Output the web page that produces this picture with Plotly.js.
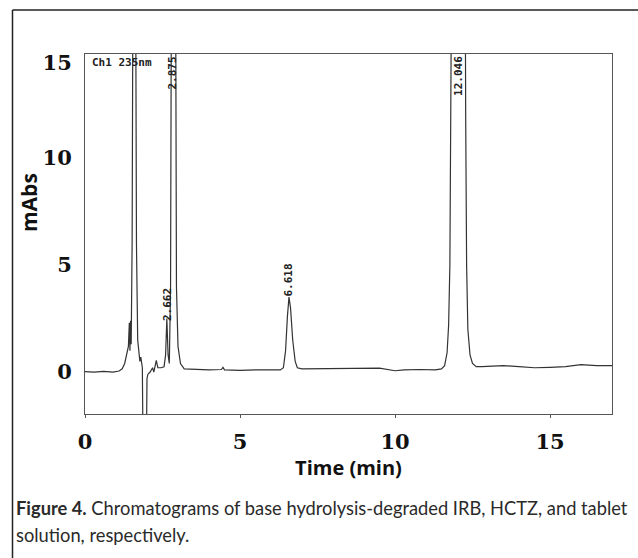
<!DOCTYPE html>
<html>
<head>
<meta charset="utf-8">
<script src="https://cdn.plot.ly/plotly-3.0.1.min.js"></script>
<style>
html,body{margin:0;padding:0;background:#fff;}
#chart{width:638px;height:558px;}
</style>
</head>
<body>
<div id="chart"></div>
<script>
// Retention time (min)
const timeMin = [
  0.0, 0.3, 0.6, 0.9, 1.1, 1.2, 1.28, 1.35, 1.4, 1.43, 1.45, 1.47, 1.49,
  1.52, 1.56, 1.62, 1.66, 1.7, 1.74, 1.77, 1.8, 1.82, 1.85, 1.88, 1.97,
  2.0, 2.03, 2.1, 2.18, 2.22, 2.3, 2.35, 2.45, 2.55, 2.6, 2.64, 2.68, 2.72,
  2.76, 2.79, 2.85, 2.92, 2.95, 3.0, 3.08, 3.2, 3.6, 4.0, 4.4, 4.45, 4.5,
  5.0, 5.5, 6.0, 6.3, 6.4, 6.47, 6.53, 6.58, 6.63, 6.7, 6.78, 6.85, 7.0,
  7.5, 8.0, 8.5, 9.0, 9.5, 10.0, 10.3, 10.8, 11.3, 11.5, 11.6, 11.68, 11.73,
  11.77, 11.8, 11.84, 11.95, 12.05, 12.15, 12.25, 12.28, 12.31, 12.35,
  12.42, 12.5, 12.62, 12.8, 13.5, 14.0, 14.5, 15.0, 15.5, 16.0, 16.5, 17.0
];
// Absorbance (mAbs)
const absorbance = [
  0.02, 0.0, 0.03, 0.0, 0.05, 0.15, 0.4, 0.9, 1.2, 2.3, 1.0, 2.4, 1.3,
  6, 25, 25, 6, 1.5, 0.8, 0.5, 0.7, 0.4, 0.2, -5, -5,
  -0.3, -0.1, 0.0, 0.2, 0.0, 0.55, 0.2, 0.2, 0.25, 0.8, 2.5, 0.8, 0.4,
  4, 20, 30, 20, 4, 1.2, 0.4, 0.15, 0.12, 0.1, 0.12, 0.22, 0.1,
  0.08, 0.1, 0.1, 0.1, 0.2, 1.0, 2.6, 3.5, 3.0, 1.5, 0.5, 0.2, 0.15,
  0.15, 0.18, 0.15, 0.18, 0.18, 0.06, 0.1, 0.12, 0.1, 0.15, 0.3, 0.9, 2.2,
  5, 12, 25, 50, 60, 50, 25, 12, 5, 2.0,
  0.8, 0.4, 0.25, 0.25, 0.3, 0.25, 0.2, 0.22, 0.25, 0.35, 0.3, 0.3
];
// Peak retention-time labels
const peakLabels = ['2.662', '2.875', '6.618', '12.046'];
const peakLabelX = [2.645, 2.81, 6.58, 12.03];
const peakLabelY = [3.13, 13.95, 4.32, 13.83];

const xTickVals = [0, 5, 10, 15];
const xTickText = ['0', '5', '10', '15'];
const yTickVals = [0, 5, 10, 14.45];
const yTickText = ['0', '5', '10', '15'];

const monoFont = {family: 'DejaVu Sans Mono', size: 11, color: '#222'};

const annotations = peakLabels.map((t, i) => ({
  x: peakLabelX[i], y: peakLabelY[i], xref: 'x', yref: 'y',
  text: '<b>' + t + '</b>', showarrow: false, textangle: -90,
  xanchor: 'center', yanchor: 'middle', font: monoFont
}));
annotations.push({
  x: 0.15, y: 14.45, xref: 'x', yref: 'y', text: '<b>Ch1 235nm</b>',
  showarrow: false, xanchor: 'left', yanchor: 'middle', font: monoFont
});
annotations.push({
  x: (29 - 85) / 527, y: (414 - 203) / 360, xref: 'paper', yref: 'paper',
  text: '<b>mAbs</b>', showarrow: false, textangle: -90,
  xanchor: 'center', yanchor: 'middle',
  font: {family: 'Open Sans', size: 21, color: '#111'}
});
annotations.push({
  x: (14 - 85) / 527, y: (414 - 508) / 360, xref: 'paper', yref: 'paper',
  text: '<b>Figure 4.</b> Chromatograms of base hydrolysis-degraded IRB, HCTZ, and tablet',
  showarrow: false, xanchor: 'left', yanchor: 'middle',
  font: {family: 'Lato', size: 18.3, color: '#2a2a2a'}
});
annotations.push({
  x: (14 - 85) / 527, y: (414 - 535) / 360, xref: 'paper', yref: 'paper',
  text: 'solution, respectively.',
  showarrow: false, xanchor: 'left', yanchor: 'middle',
  font: {family: 'Lato', size: 18.3, color: '#2a2a2a'}
});

const trace = {
  x: timeMin, y: absorbance, type: 'scatter', mode: 'lines',
  line: {color: '#333', width: 1.2}, hoverinfo: 'skip', showlegend: false
};

const layout = {
  width: 638, height: 558,
  margin: {l: 85, r: 26, t: 54, b: 144},
  paper_bgcolor: '#fff', plot_bgcolor: '#fff',
  showlegend: false,
  xaxis: {
    range: [0, 17], showgrid: false, zeroline: false,
    showline: true, mirror: true, linecolor: '#555', linewidth: 1,
    tickvals: xTickVals, ticktext: xTickText,
    ticks: 'outside', ticklen: 3, tickcolor: '#555', ticklabelstandoff: 6,
    tickfont: {family: 'DejaVu Serif', size: 21, color: '#111', weight: 'bold'},
    title: {text: '<b>Time (min)</b>', standoff: 6,
            font: {family: 'Open Sans', size: 20, color: '#111'}}
  },
  yaxis: {
    range: [-1.96, 14.86], showgrid: false, zeroline: false,
    showline: true, mirror: true, linecolor: '#555', linewidth: 1,
    tickvals: yTickVals, ticktext: yTickText, ticks: '',
    ticklabelstandoff: 8,
    tickfont: {family: 'DejaVu Serif', size: 21, color: '#111', weight: 'bold'}
  },
  annotations: annotations,
  shapes: [
    {type: 'line', xref: 'paper', yref: 'paper',
     x0: (12.5 - 85) / 527, x1: (12.5 - 85) / 527,
     y0: (414 - 10) / 360, y1: (414 - 562) / 360,
     line: {color: '#222', width: 1.5}},
    {type: 'line', xref: 'paper', yref: 'paper',
     x0: (12.5 - 85) / 527, x1: (642 - 85) / 527,
     y0: (414 - 10) / 360, y1: (414 - 10) / 360,
     line: {color: '#222', width: 1.5}}
  ]
};

Plotly.newPlot('chart', [trace], layout, {displayModeBar: false, staticPlot: true});
</script>
</body>
</html>
